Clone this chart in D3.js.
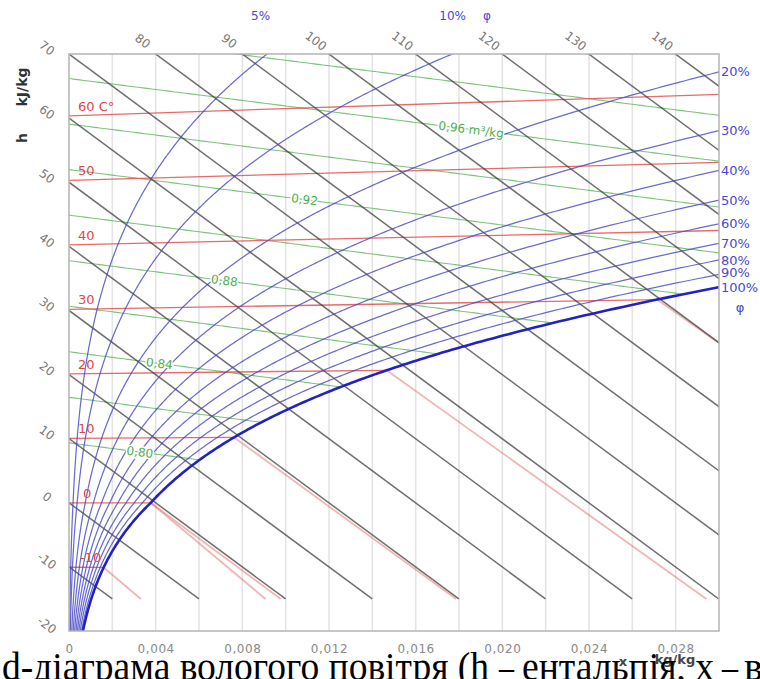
<!DOCTYPE html>
<html>
<head>
<meta charset="utf-8">
<script src="https://cdn.jsdelivr.net/npm/d3@7"></script>
<style>
  html, body { margin: 0; padding: 0; background: #fff; }
  svg { display: block; }
  text { font-family: "DejaVu Sans", Verdana, sans-serif; }
  text.caption { font-family: "Liberation Serif", "Times New Roman", serif; }
</style>
</head>
<body>
<svg id="chart" width="760" height="679"></svg>
<script>
// Isoline levels of the h-x (Mollier) diagram for moist air
const enthalpyLevels = [-10, 0, 10, 20, 30, 40, 50, 60, 70, 80, 90, 100, 110, 120, 130, 140, 150];
const enthalpyLeftLabels = [70, 60, 50, 40, 30, 20, 10, 0, -10, -20];
const enthalpyTopLabels = [80, 90, 100, 110, 120, 130, 140];
const temperatureLevels = [-10, 0, 10, 20, 30, 40, 50, 60];
const temperatureLabels = ["-10", "0", "10", "20", "30", "40", "50", "60 C°"];
const humidityLevels = [0.05, 0.1, 0.2, 0.3, 0.4, 0.5, 0.6, 0.7, 0.8, 0.9];
const humidityTopLabels = ["5%", "10%"];
const humidityRightLabels = ["20%", "30%", "40%", "50%", "60%", "70%", "80%", "90%", "100%"];
const volumeLevels = [0.80, 0.82, 0.84, 0.86, 0.88, 0.90, 0.92, 0.94, 0.96, 0.98];
const volumeLabelLevels = [0.80, 0.84, 0.88, 0.92, 0.96];
const volumeLabelTexts = ["0,80", "0,84", "0,88", "0,92", "0,96 m³/kg"];
const volumeLabelAt = [0.0033, 0.0042, 0.0072, 0.0109, 0.0177];
const xTicks = [0, 0.004, 0.008, 0.012, 0.016, 0.020, 0.024, 0.028];
const xGrid = [0.002, 0.004, 0.006, 0.008, 0.010, 0.012, 0.014, 0.016, 0.018, 0.020, 0.022, 0.024, 0.026, 0.028];
const captionRuns = [
  { s: "d-діаграма вологого повітря (h", x: 2, w: 487 },
  { s: "–", x: 499, w: 15 },
  { s: "ентальпія, x", x: 522, w: 192 },
  { s: "–", x: 722, w: 16 },
  { s: "вологовміст)", x: 744 }
];

// Thermodynamic relations (p = 101.325 kPa)
const P = 101.325, R0 = 2501, YMIN_LINES = -15;
function satPressure(t) {
  return t >= 0 ? 0.61094 * Math.exp(17.625 * t / (t + 243.04))
                : 0.61115 * Math.exp(22.452 * t / (272.55 + t));
}
function moisture(t, phi) { const pv = phi * satPressure(t); return 0.622 * pv / (P - pv); }
// vertical coordinate: h - r0*x, so the 0 °C isotherm is horizontal
function skewY(t, x) { return 1.006 * t + 1.86 * t * x; }

const L = 69, R = 719, T = 54, B = 631;
const xS = d3.scaleLinear().domain([0, 0.030]).range([L, R]);
const yS = d3.scaleLinear().domain([-20, 70]).range([B, T]);
const line = d3.line().x(d => xS(d[0])).y(d => yS(d[1]));

const svg = d3.select("#chart");
svg.append("defs").append("clipPath").attr("id", "plot")
  .append("rect").attr("x", L).attr("y", T).attr("width", R - L).attr("height", B - T);
const g = svg.append("g").attr("clip-path", "url(#plot)");

// vertical grid
g.selectAll("line.grid").data(xGrid).join("line")
  .attr("x1", d => xS(d)).attr("x2", d => xS(d)).attr("y1", T).attr("y2", B)
  .attr("stroke", "#e4e4e4").attr("stroke-width", 1.6);

// specific volume lines (end on the saturation curve)
function volumeLine(v) {
  const pts = [];
  for (let x = 0; x <= 0.031; x += 0.0001) {
    const t = v * P / (0.287 * (1 + 1.608 * x)) - 273.15;
    pts.push([x, skewY(t, x)]);
    if (x >= moisture(t, 1)) break;
  }
  return pts;
}
g.selectAll("path.vol").data(volumeLevels).join("path")
  .attr("d", v => line(volumeLine(v)))
  .attr("fill", "none").attr("stroke", "rgba(70,170,70,0.7)").attr("stroke-width", 1.1);

// isotherms: unsaturated part and fog part
const fogLines = [];
temperatureLevels.forEach(t => {
  const xs = moisture(t, 1), ys = skewY(t, xs);
  if (t >= 0) fogLines.push({ t, xs, ys, k: 4.19 * t - R0 });
  if (t <= 0) fogLines.push({ t, xs, ys, k: 2.09 * t - 333.4 - R0 });
});
g.selectAll("path.fog").data(fogLines.filter(f => f.xs < 0.03)).join("path")
  .attr("d", f => line([[f.xs, f.ys], [f.xs + (f.ys - YMIN_LINES) / -f.k, YMIN_LINES]]))
  .attr("fill", "none").attr("stroke", "rgba(225,110,110,0.5)").attr("stroke-width", 1.8);
g.selectAll("path.iso").data(temperatureLevels).join("path")
  .attr("d", t => { const xe = Math.min(moisture(t, 1), 0.031); return line([[0, skewY(t, 0)], [xe, skewY(t, xe)]]); })
  .attr("fill", "none").attr("stroke", "rgba(228,80,80,0.85)").attr("stroke-width", 1.3);

// enthalpy lines
g.selectAll("path.h").data(enthalpyLevels).join("path")
  .attr("d", h => line([[0, h], [(h - YMIN_LINES) / R0, YMIN_LINES]]))
  .attr("fill", "none").attr("stroke", "rgba(55,55,55,0.72)").attr("stroke-width", 1.5);

// relative humidity curves
function humidityCurve(phi) {
  const pts = [];
  for (let t = -20; t <= 100; t += 0.2) {
    const x = moisture(t, phi);
    if (x < 0 || x > 0.04) break;
    const y = skewY(t, x);
    pts.push([x, y]);
    if (y > 72) break;
  }
  return pts;
}
g.selectAll("path.phi").data(humidityLevels).join("path")
  .attr("d", p => line(humidityCurve(p)))
  .attr("fill", "none").attr("stroke", "rgba(70,70,195,0.8)").attr("stroke-width", 1.25);
g.append("path").attr("d", line(humidityCurve(1)))
  .attr("fill", "none").attr("stroke", "#2222c4").attr("stroke-width", 2.6);

// plot frame
svg.append("rect").attr("x", L).attr("y", T).attr("width", R - L).attr("height", B - T)
  .attr("fill", "none").attr("stroke", "#b4b4b4").attr("stroke-width", 1.5);

// x axis
const xAxis = svg.append("g").attr("transform", `translate(0,${B})`)
  .call(d3.axisBottom(xS).tickValues(xTicks).tickSize(0).tickPadding(13)
    .tickFormat(d => d === 0 ? "0" : d3.format(".3f")(d).replace(".", ",")));
xAxis.select(".domain").remove();
xAxis.selectAll("text").attr("fill", "#8a8a8a").attr("font-size", 12)
  .attr("letter-spacing", 0.6).style("font-family", "'DejaVu Sans', sans-serif");

// enthalpy labels
const angle = Math.atan(R0 * (yS(0) - yS(1)) / (xS(1) - xS(0))) * 180 / Math.PI;
svg.selectAll("text.hl").data(enthalpyLeftLabels).join("text")
  .attr("transform", h => `translate(47,${yS(h) - 6}) rotate(${angle})`)
  .attr("text-anchor", "middle").attr("dy", "0.35em")
  .attr("font-size", 12).attr("fill", "#777").text(h => h);
svg.selectAll("text.ht").data(enthalpyTopLabels).join("text")
  .attr("transform", h => `translate(${xS((h - 70) / R0) - 13},41) rotate(${angle})`)
  .attr("text-anchor", "middle").attr("dy", "0.35em")
  .attr("font-size", 12).attr("fill", "#777").text(h => h);

// temperature labels
svg.selectAll("text.tl").data(temperatureLevels).join("text")
  .attr("x", t => t < 0 ? 80 : (t === 0 ? 83 : 78)).attr("y", t => yS(skewY(t, 0)) - 5)
  .attr("font-size", 13).attr("fill", "#e04848").text((t, i) => temperatureLabels[i]);

// volume labels along their lines
volumeLabelLevels.forEach((v, i) => {
  const x0 = volumeLabelAt[i];
  const f = x => { const t = v * P / (0.287 * (1 + 1.608 * x)) - 273.15; return skewY(t, x); };
  const px = xS(x0), py = yS(f(x0));
  const a = Math.atan2(yS(f(x0 + 0.002)) - py, xS(x0 + 0.002) - px) * 180 / Math.PI;
  svg.append("text").attr("transform", `translate(${px},${py}) rotate(${a})`)
    .attr("x", -14).attr("dy", "0.35em").attr("font-size", 12)
    .attr("fill", "#4cae4c").attr("stroke", "#fff").attr("stroke-width", 3)
    .attr("paint-order", "stroke").text(volumeLabelTexts[i]);
});

// relative humidity labels
const phiColor = "#4848d4";
humidityTopLabels.forEach((s, i) => {
  const pts = humidityCurve(humidityLevels[i]);
  const top = pts.find(p => p[1] >= 70) || pts[pts.length - 1];
  svg.append("text").attr("x", xS(top[0]) - (i === 0 ? 8 : 0)).attr("y", 20)
    .attr("text-anchor", "middle").attr("font-size", 12).attr("fill", phiColor).text(s);
});
svg.append("text").attr("x", 487).attr("y", 20).attr("text-anchor", "middle")
  .attr("font-size", 12).attr("fill", phiColor).text("φ");
const rightLevels = humidityLevels.slice(2).concat([1]);
rightLevels.forEach((p, i) => {
  const pts = humidityCurve(p);
  const xEnd = 0.030;
  const j = pts.findIndex(q => q[0] >= xEnd);
  const a = pts[j - 1], b = pts[j];
  const yv = a[1] + (b[1] - a[1]) * (xEnd - a[0]) / (b[0] - a[0]);
  let y = yS(yv);
  if (p === 0.9) y -= 2;
  svg.append("text").attr("x", 721).attr("y", y).attr("dy", "0.35em")
    .attr("font-size", 13).attr("fill", phiColor).text(humidityRightLabels[i]);
});
svg.append("text").attr("x", 740).attr("y", 307).attr("dy", "0.35em").attr("text-anchor", "middle")
  .attr("font-size", 13).attr("fill", phiColor).text("φ");

// axis titles
svg.append("text").attr("transform", "translate(22,138) rotate(-90)").attr("text-anchor", "middle")
  .attr("dy", "0.35em").attr("font-size", 14).attr("font-weight", "bold").attr("fill", "#333").text("h");
svg.append("text").attr("transform", "translate(22,87) rotate(-90)").attr("text-anchor", "middle")
  .attr("dy", "0.35em").attr("font-size", 14).attr("font-weight", "bold").attr("fill", "#333").text("kJ/kg");
svg.append("text").attr("x", 623).attr("y", 666).attr("text-anchor", "middle")
  .attr("font-size", 13).attr("font-weight", "bold").attr("fill", "#444").text("x");
svg.append("text").attr("x", 675).attr("y", 664).attr("text-anchor", "middle")
  .attr("font-size", 13).attr("font-weight", "bold").attr("fill", "#444").text("kg/kg");

// caption line, set in separate runs
const cap = svg.append("text").attr("class", "caption").attr("y", 680)
  .attr("font-size", 40).attr("fill", "#000");
captionRuns.forEach(r => {
  const ts = cap.append("tspan").attr("x", r.x).text(r.s);
  if (r.w) ts.attr("textLength", r.w).attr("lengthAdjust", "spacingAndGlyphs");
});
</script>
</body>
</html>
